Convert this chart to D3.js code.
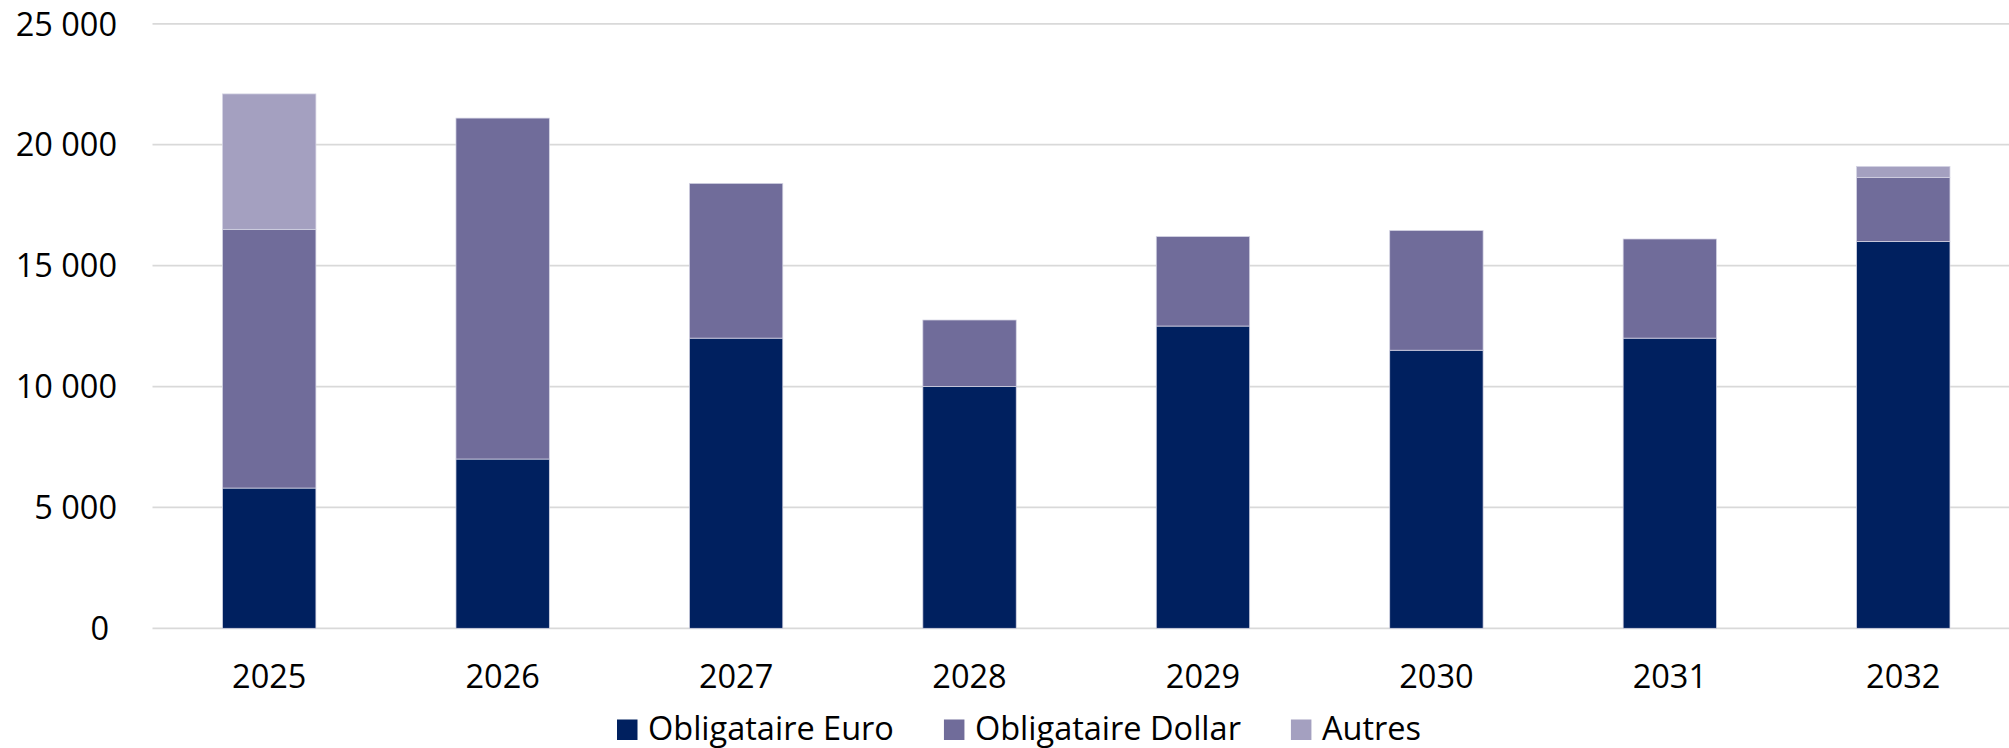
<!DOCTYPE html>
<html>
<head>
<meta charset="utf-8">
<script src="https://cdn.jsdelivr.net/npm/d3@7"></script>
<style>
  body { margin: 0; background: #fff; }
  svg { display: block; font-family: 'Open Sans', sans-serif; }
  .grid line { stroke: #d9d9d9; stroke-width: 1.75; }
  .label { fill: #000; font-size: 32.5px; }
</style>
</head>
<body>
<div id="chart"></div>
<script>
  'use strict';

  var years = ['2025', '2026', '2027', '2028', '2029', '2030', '2031', '2032'];
  var euro = [5800, 7000, 12000, 10000, 12500, 11500, 12000, 16000];
  var dollar = [10700, 14100, 6400, 2750, 3700, 4950, 4100, 2650];
  var autres = [5600, 0, 0, 0, 0, 0, 0, 450];
  var seriesNames = ['Obligataire Euro', 'Obligataire Dollar', 'Autres'];
  var seriesColors = ['#00205f', '#706c9a', '#a4a0c0'];
  var yTicks = [0, 5000, 10000, 15000, 20000, 25000];

  var width = 2009;
  var height = 748;

  var rows = years.map(function(yr, i) {
    return { year: yr, e: euro[i], d: dollar[i], a: autres[i] };
  });
  var keys = ['e', 'd', 'a'];
  var stacked = d3.stack().keys(keys)(rows);

  var xScale = d3.scaleBand()
    .domain(years)
    .range([152.5, 2020])
    .paddingInner(0.6)
    .paddingOuter(0.3);

  var yScale = d3.scaleLinear().domain([0, 25000]).range([628.3, 23.8]);

  var svg = d3.select('#chart')
    .append('svg')
    .attr('width', width)
    .attr('height', height);

  // Horizontal gridlines, including the zero line.
  svg.append('g')
    .attr('class', 'grid')
    .selectAll('line')
    .data(yTicks)
    .enter().append('line')
    .attr('x1', 152.5)
    .attr('x2', width)
    .attr('y1', function(d) { return yScale(d); })
    .attr('y2', function(d) { return yScale(d); });

  // Y-axis labels, space as the thousands separator.
  var fmt = d3.formatLocale({ decimal: ',', thousands: ' ', grouping: [3], currency: ['', ' €'] }).format(',d');
  svg.append('g')
    .selectAll('text')
    .data(yTicks)
    .enter().append('text')
    .attr('class', 'label')
    .attr('text-anchor', 'end')
    .attr('x', 117)
    .attr('dx', function(d) { return d === 0 ? -8 : 0; })
    .attr('y', function(d) { return yScale(d); })
    .attr('dy', '0.36em')
    .text(function(d) { return fmt(d); });

  // Stacked bars.
  svg.append('g')
    .selectAll('g')
    .data(stacked)
    .enter().append('g')
    .attr('fill', function(d, i) { return seriesColors[i]; })
    .selectAll('rect')
    .data(function(d) { return d.filter(function(p) { return p[1] > p[0]; }); })
    .enter().append('rect')
    .attr('x', function(d) { return xScale(d.data.year); })
    .attr('width', xScale.bandwidth())
    .attr('y', function(d) { return yScale(d[1]); })
    .attr('height', function(d) { return yScale(d[0]) - yScale(d[1]); })
    .attr('stroke', '#d4d3e3')
    .attr('stroke-width', 0.75);

  // X-axis labels.
  svg.append('g')
    .selectAll('text')
    .data(years)
    .enter().append('text')
    .attr('class', 'label')
    .attr('text-anchor', 'middle')
    .attr('x', function(d) { return xScale(d) + xScale.bandwidth() / 2; })
    .attr('y', 688)
    .text(function(d) { return d; });

  // Legend, laid out from left to right.
  var legend = svg.append('g');
  var lx = 617;
  seriesNames.forEach(function(name, i) {
    legend.append('rect')
      .attr('x', lx)
      .attr('y', 719.5)
      .attr('width', 20.5)
      .attr('height', 20.5)
      .attr('fill', seriesColors[i]);
    var t = legend.append('text')
      .attr('class', 'label')
      .attr('x', lx + 31)
      .attr('y', 739.5)
      .text(name);
    lx += 31 + t.node().getComputedTextLength() + 50;
  });
</script>
</body>
</html>
